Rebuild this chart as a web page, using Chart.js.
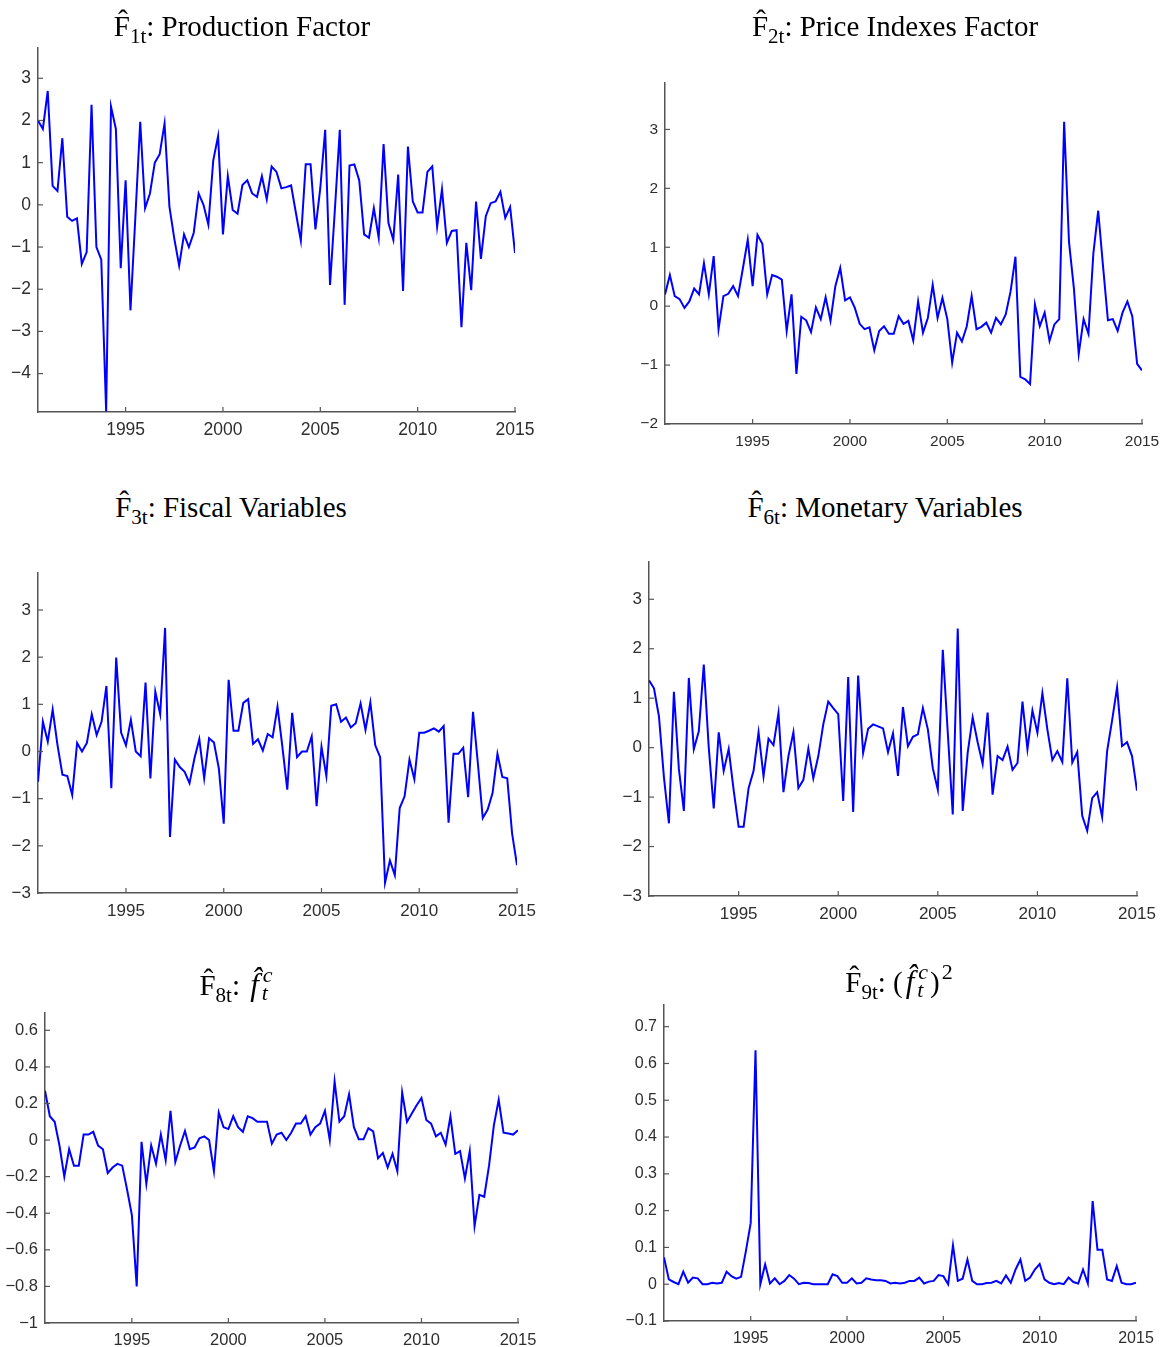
<!DOCTYPE html>
<html>
<head>
<meta charset="utf-8">
<script src="https://cdn.jsdelivr.net/npm/chart.js@4.4.1/dist/chart.umd.min.js"></script>
<style>
  html, body { margin: 0; padding: 0; background: #ffffff; }
  body { width: 1167px; height: 1347px; position: relative; overflow: hidden; }
  .panel { position: absolute; }
  .title { position: absolute; width: 600px; text-align: center; font-family: "Liberation Serif", "DejaVu Serif", serif; font-size: 29px; line-height: 34px; color: #000; white-space: nowrap; }
  .title sub { font-size: 21px; vertical-align: -7px; line-height: 0; }
  .title sup { font-size: 22px; vertical-align: 13px; line-height: 0; margin-left: 2px; }
  .title i.f { font-size: 31px; margin-left: 3px; }
  .ss { display: inline-flex; flex-direction: column; vertical-align: 13px; line-height: 18px; font-size: 22px; font-style: italic; margin-left: 4px; margin-right: 2px; text-align: left; }
  .ss .t { margin-left: -1px; }
</style>
</head>
<body>
<script>
// ---------------- data (quarterly, 1990Q3 .. 2015Q1) ----------------
const startYear = 1990.5;
const xTicks = [1995, 2000, 2005, 2010, 2015];

const production = [2.0, 1.8, 2.7, 0.45, 0.33, 1.58, -0.28, -0.38, -0.32, -1.4,
  -1.12, 2.37, -1.0, -1.3, -4.9, 2.33, 1.8, -1.5, 0.58, -2.5,
  -0.3, 1.97, -0.08, 0.27, 1.0, 1.2, 1.93, -0.04, -0.8, -1.44,
  -0.7, -1.0, -0.66, 0.27, 0.0, -0.47, 1.05, 1.63, -0.7, 0.68,
  -0.12, -0.21, 0.47, 0.58, 0.27, 0.19, 0.68, 0.13, 0.91, 0.78,
  0.39, 0.42, 0.46, -0.2, -0.85, 0.96, 0.96, -0.58, 0.4, 1.78,
  -1.9, -0.1, 1.78, -2.37, 0.93, 0.96, 0.58, -0.7, -0.78, -0.08,
  -0.78, 1.44, -0.43, -0.83, 0.72, -2.04, 1.38, 0.08, -0.18, -0.18,
  0.78, 0.91, -0.52, 0.37, -0.9, -0.62, -0.6, -2.9, -0.9, -2.02,
  0.08, -1.28, -0.27, 0.04, 0.08, 0.31, -0.31, -0.05, -1.14];

const priceIndexes = [0.2, 0.53, 0.17, 0.12, -0.03, 0.08, 0.3, 0.2, 0.73, 0.2,
  0.85, -0.39, 0.17, 0.21, 0.34, 0.17, 0.64, 1.13, 0.34, 1.21,
  1.06, 0.2, 0.53, 0.5, 0.45, -0.42, 0.2, -1.15, -0.18, -0.24,
  -0.44, -0.02, -0.22, 0.15, -0.25, 0.34, 0.65, 0.1, 0.15, -0.03,
  -0.3, -0.39, -0.36, -0.75, -0.42, -0.34, -0.47, -0.47, -0.17, -0.3,
  -0.25, -0.58, 0.08, -0.45, -0.2, 0.36, -0.2, 0.14, -0.22, -0.96,
  -0.45, -0.6, -0.34, 0.17, -0.39, -0.35, -0.28, -0.45, -0.2, -0.31,
  -0.14, 0.25, 0.84, -1.2, -1.24, -1.32, 0.03, -0.34, -0.11, -0.59,
  -0.31, -0.22, 3.13, 1.09, 0.31, -0.81, -0.22, -0.47, 0.89, 1.62,
  0.67, -0.24, -0.22, -0.42, -0.11, 0.08, -0.17, -0.98, -1.09];

const fiscal = [-0.64, 0.63, 0.21, 0.89, 0.13, -0.49, -0.52, -0.92, 0.18, 0,
  0.18, 0.79, 0.35, 0.63, 1.39, -0.78, 1.99, 0.4, 0.13, 0.67,
  0, -0.1, 1.46, -0.57, 1.27, 0.79, 2.62, -1.81, -0.17, -0.33,
  -0.43, -0.67, -0.15, 0.26, -0.57, 0.28, 0.19, -0.36, -1.53, 1.52,
  0.44, 0.44, 1.03, 1.11, 0.16, 0.26, 0.02, 0.37, 0.3, 0.95,
  0.1, -0.81, 0.82, -0.12, 0, 0, 0.32, -1.16, 0.1, -0.52,
  0.97, 1.0, 0.63, 0.72, 0.51, 0.6, 1.02, 0.46, 1.04, 0.13,
  -0.12, -2.78, -2.31, -2.62, -1.2, -0.95, -0.17, -0.59, 0.4, 0.4,
  0.44, 0.49, 0.42, 0.54, -1.51, -0.05, -0.05, 0.08, -0.97, 0.84,
  -0.26, -1.41, -1.23, -0.88, -0.05, -0.54, -0.57, -1.74, -2.41];

const monetary = [1.36, 1.2, 0.63, -0.6, -1.53, 1.13, -0.43, -1.28, 1.41, -0.03,
  0.33, 1.68, 0.0, -1.23, 0.31, -0.47, -0.03, -0.86, -1.6, -1.6,
  -0.82, -0.47, 0.31, -0.58, 0.18, 0.05, 0.7, -0.9, -0.17, 0.31,
  -0.82, -0.65, -0.02, -0.62, -0.17, 0.47, 0.93, 0.8, 0.68, -1.08,
  1.43, -1.3, 1.46, -0.11, 0.38, 0.47, 0.43, 0.39, -0.09, 0.29,
  -0.57, 0.82, 0.03, 0.22, 0.27, 0.8, 0.37, -0.42, -0.85, 1.98,
  0.3, -1.35, 2.41, -1.28, -0.1, 0.61, 0.11, -0.33, 0.71, -0.95,
  -0.17, -0.25, 0.02, -0.45, -0.31, 0.93, -0.03, 0.75, 0.3, 1.1,
  0.37, -0.25, -0.07, -0.29, 1.4, -0.3, -0.09, -1.38, -1.68, -1.02,
  -0.9, -1.4, -0.07, 0.55, 1.22, 0.03, 0.11, -0.17, -0.87];

const fc = [0.27, 0.13, 0.1, -0.03, -0.2, -0.05, -0.14, -0.14, 0.03, 0.03,
  0.045, -0.03, -0.05, -0.18, -0.15, -0.13, -0.14, -0.27, -0.41, -0.8,
  -0.01, -0.24, -0.03, -0.13, 0.03, -0.11, 0.16, -0.12, -0.03, 0.05,
  -0.05, -0.04, 0.01, 0.02, 0, -0.17, 0.15, 0.07, 0.06, 0.13,
  0.07, 0.045, 0.13, 0.12, 0.1, 0.1, 0.1, -0.02, 0.03, 0.04,
  0, 0.04, 0.09, 0.09, 0.13, 0.03, 0.07, 0.09, 0.16, 0,
  0.32, 0.1, 0.13, 0.25, 0.07, 0.005, 0.005, 0.065, 0.047, -0.1,
  -0.07, -0.15, -0.075, -0.17, 0.26, 0.1, 0.145, 0.19, 0.23, 0.11,
  0.09, 0.02, 0.04, -0.025, 0.13, -0.075, -0.06, -0.21, -0.06, -0.47,
  -0.3, -0.31, -0.14, 0.08, 0.22, 0.04, 0.036, 0.03, 0.054];

const fcSquared = [0.073, 0.013, 0.006, 0, 0.034, 0.004, 0.018, 0.016, 0, 0,
  0.004, 0.002, 0.004, 0.034, 0.022, 0.015, 0.02, 0.09, 0.166, 0.636,
  0, 0.054, 0.002, 0.016, 0, 0.009, 0.025, 0.015, 0, 0.004,
  0.003, 0, 0, 0, 0, 0.027, 0.022, 0.004, 0.004, 0.016,
  0.002, 0.004, 0.016, 0.013, 0.011, 0.011, 0.009, 0.002, 0.004, 0.002,
  0.004, 0.009, 0.009, 0.018, 0.002, 0.007, 0.009, 0.025, 0.022, 0,
  0.106, 0.009, 0.015, 0.067, 0.009, 0, 0, 0.003, 0.004, 0.009,
  0.002, 0.024, 0.004, 0.04, 0.067, 0.009, 0.018, 0.04, 0.055, 0.013,
  0.004, 0, 0.003, 0, 0.018, 0.006, 0.002, 0.04, 0.002, 0.226,
  0.094, 0.094, 0.013, 0.009, 0.049, 0.004, 0, 0, 0.004];

const yTicksProduction = [-4, -3, -2, -1, 0, 1, 2, 3];
const yTicksPrice = [-2, -1, 0, 1, 2, 3];
const yTicksFiscal = [-3, -2, -1, 0, 1, 2, 3];
const yTicksMonetary = [-3, -2, -1, 0, 1, 2, 3];
const yTicksFc = [-1, -0.8, -0.6, -0.4, -0.2, 0, 0.2, 0.4, 0.6];
const yTicksFcSq = [-0.1, 0, 0.1, 0.2, 0.3, 0.4, 0.5, 0.6, 0.7];

const titles = [
  'F\u0302<sub>1t</sub>: Production Factor',
  'F\u0302<sub>2t</sub>: Price Indexes Factor',
  'F\u0302<sub>3t</sub>: Fiscal Variables',
  'F\u0302<sub>6t</sub>: Monetary Variables',
  'F\u0302<sub>8t</sub>: <i class="f">f\u0302</i><span class="ss"><span>c</span><span class="t">t</span></span>',
  'F\u0302<sub>9t</sub>: (<i class="f">f\u0302</i><span class="ss"><span>c</span><span class="t">t</span></span>)<sup>2</sup>'
];

// ---------------- layout (chart-area boxes in page pixels) ----------------
const panels = [
  { values: production,   yTicks: yTicksProduction, ymin: -4.91, ymax: 3.73,  L: 38,  R: 515,  T: 42,   B: 412,  font: 17.5, title: titles[0], tx: 242, tTop: 9 },
  { values: priceIndexes, yTicks: yTicksPrice,      ymin: -2,    ymax: 3.8,   L: 665, R: 1142, T: 78,   B: 424,  font: 15.5, title: titles[1], tx: 895, tTop: 9 },
  { values: fiscal,       yTicks: yTicksFiscal,     ymin: -3,    ymax: 3.78,  L: 38,  R: 517,  T: 568,  B: 893,  font: 17,   title: titles[2], tx: 231, tTop: 490 },
  { values: monetary,     yTicks: yTicksMonetary,   ymin: -3,    ymax: 3.75,  L: 649, R: 1137, T: 557,  B: 896,  font: 17,   title: titles[3], tx: 885, tTop: 490 },
  { values: fc,           yTicks: yTicksFc,         ymin: -1,    ymax: 0.695, L: 45,  R: 518,  T: 1008, B: 1323, font: 16.5, title: titles[4], tx: 237, tTop: 966 },
  { values: fcSquared,    yTicks: yTicksFcSq,       ymin: -0.1,  ymax: 0.76,  L: 664, R: 1136, T: 1000, B: 1321, font: 16,   title: titles[5], tx: 899, tTop: 963 }
];

const AXIS = '#555555';
const LABEL = '#2e2e2e';
const Y_W = 44, PAD_T = 12, PAD_R = 32, X_H = 34;

const inwardTicks = {
  id: 'inwardTicks',
  afterDraw(chart) {
    const { ctx, chartArea, scales } = chart;
    const x = scales.x, y = scales.y;
    ctx.save();
    ctx.strokeStyle = AXIS;
    ctx.lineWidth = 1.2;
    x.ticks.forEach(t => {
      const px = x.getPixelForValue(t.value);
      ctx.beginPath(); ctx.moveTo(px, chartArea.bottom); ctx.lineTo(px, chartArea.bottom - 5); ctx.stroke();
    });
    y.ticks.forEach(t => {
      const py = y.getPixelForValue(t.value);
      ctx.beginPath(); ctx.moveTo(chartArea.left, py); ctx.lineTo(chartArea.left + 5, py); ctx.stroke();
    });
    ctx.restore();
  }
};

function fmt(v) {
  const r = Math.round(v * 100) / 100;
  return String(r).replace('-', '\u2212');
}

Chart.defaults.font.family = '"Liberation Sans", Arial, sans-serif';

panels.forEach(p => {
  const quarters = p.values.map((_, i) => startYear + i * 0.25);
  const div = document.createElement('div');
  div.className = 'panel';
  div.style.left = (p.L - Y_W) + 'px';
  div.style.top = (p.T - PAD_T) + 'px';
  div.style.width = (p.R - p.L + Y_W + PAD_R) + 'px';
  div.style.height = (p.B - p.T + PAD_T + X_H) + 'px';
  const canvas = document.createElement('canvas');
  div.appendChild(canvas);
  document.body.appendChild(div);

  const t = document.createElement('div');
  t.className = 'title';
  t.style.left = (p.tx - 300) + 'px';
  t.style.top = p.tTop + 'px';
  t.innerHTML = p.title;
  document.body.appendChild(t);

  new Chart(canvas, {
    type: 'line',
    data: {
      datasets: [{
        data: p.values.map((v, i) => ({ x: quarters[i], y: v })),
        borderColor: '#0000ff',
        borderWidth: 2,
        pointRadius: 0,
        tension: 0,
        fill: false
      }]
    },
    options: {
      responsive: true,
      maintainAspectRatio: false,
      animation: false,
      events: [],
      layout: { padding: { top: PAD_T, right: PAD_R, left: 0, bottom: 0 } },
      plugins: { legend: { display: false }, tooltip: { enabled: false }, title: { display: false } },
      scales: {
        x: {
          type: 'linear',
          min: startYear,
          max: 2015,
          grid: { display: false, drawTicks: false },
          border: { display: true, color: AXIS, width: 1.5 },
          afterBuildTicks: s => { s.ticks = xTicks.map(v => ({ value: v })); },
          afterFit: s => { s.height = X_H; },
          ticks: { color: LABEL, font: { size: p.font }, padding: 8, maxRotation: 0, autoSkip: false, callback: v => String(v) }
        },
        y: {
          type: 'linear',
          min: p.ymin,
          max: p.ymax,
          grid: { display: false, drawTicks: false },
          border: { display: true, color: AXIS, width: 1.5 },
          afterBuildTicks: s => { s.ticks = p.yTicks.map(v => ({ value: v })); },
          afterFit: s => { s.width = Y_W; },
          ticks: { color: LABEL, font: { size: p.font }, padding: 7, autoSkip: false, callback: v => fmt(v) }
        }
      }
    },
    plugins: [inwardTicks]
  });
});
</script>
</body>
</html>
